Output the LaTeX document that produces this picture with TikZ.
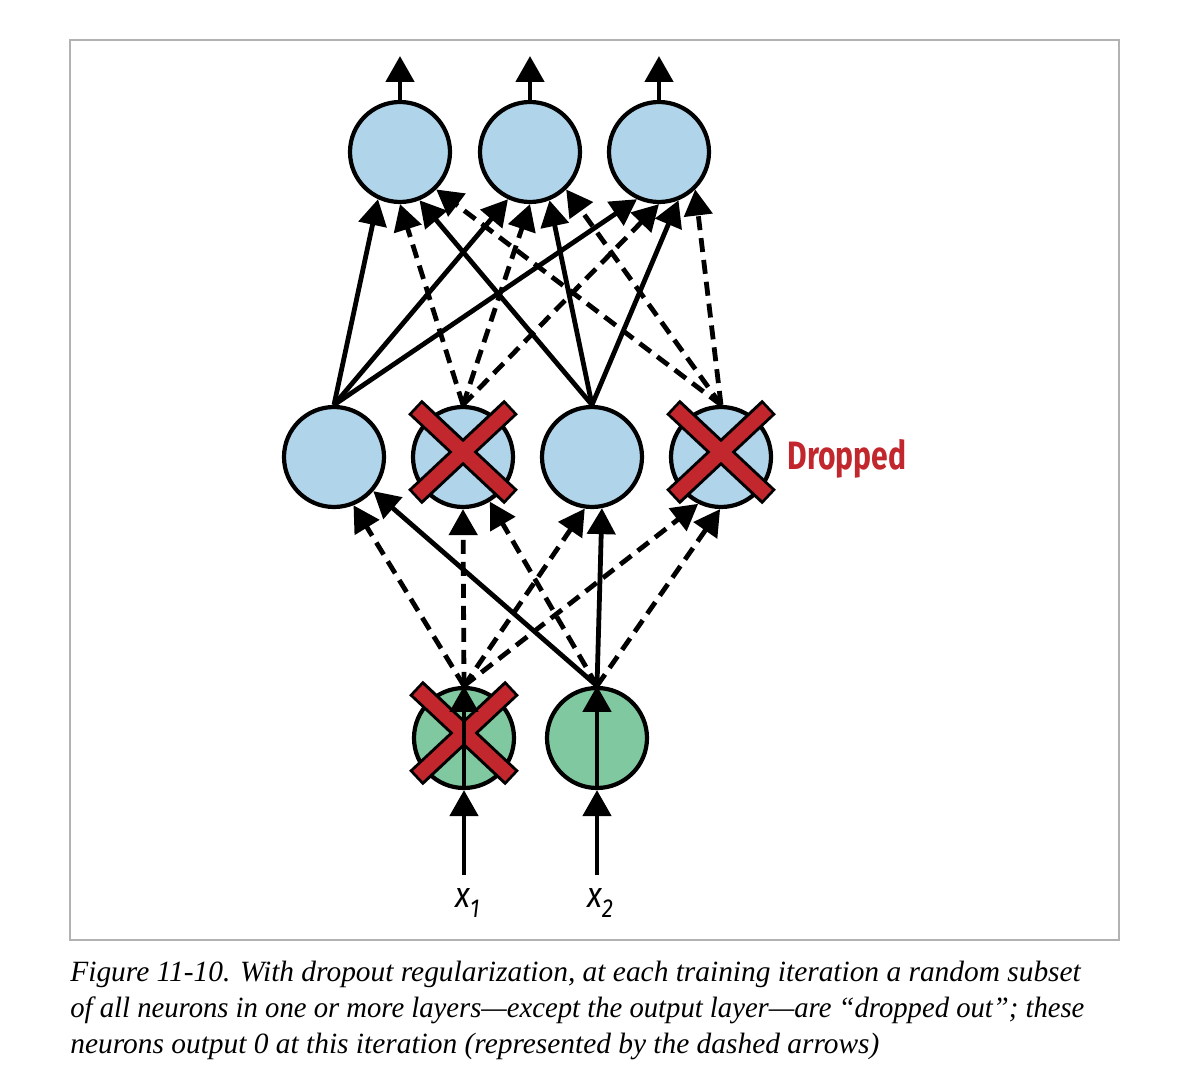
\documentclass[tikz,border=0pt]{standalone}
\usepackage{fontspec}
\setmainfont{Liberation Serif}
\newfontfamily\dropfont[FakeStretch=0.76]{Fira Sans}
\newfontfamily\inputfont[FakeStretch=0.85]{Fira Sans}
\usetikzlibrary{arrows.meta}
\definecolor{neuronblue}{RGB}{176,212,234}
\definecolor{neurongreen}{RGB}{128,200,160}
\definecolor{dropred}{RGB}{193,39,45}
\newcommand{\inlabel}[1]{{\fontsize{18pt}{18pt}\selectfont x}\raisebox{-5pt}{\fontsize{13pt}{13pt}\selectfont #1}}
\begin{document}
\begin{tikzpicture}[
      x=0.5pt, y=-0.5pt,
      neuron/.style={circle, draw, line width=2.1pt, minimum size=50pt,
                     inner sep=0pt, fill=neuronblue},
      conn/.style={line width=2.4pt, -{Triangle[length=13pt,width=14pt]}},
      off/.style={conn, dash pattern=on 7pt off 4pt},
      capline/.style={anchor=base west, inner sep=0pt,
                      font=\fontsize{14.7pt}{18pt}\selectfont\itshape}
    ]
      \useasboundingbox (0,0) rectangle (1188,1090);
      \draw[gray!60, line width=0.6pt] (70,40) rectangle (1119,940);
      \foreach \i/\x in {1/400,2/530,3/659} {
        \node[neuron] (o\i) at (\x,152) {};
        \coordinate (top\i) at (\x,56);
      }
      \foreach \i/\x in {1/334,2/463,3/592,4/721}
        \node[neuron] (h\i) at (\x,457) {};
      \foreach \i/\x in {1/464,2/597} {
        \node[neuron, fill=neurongreen] (i\i) at (\x,738) {};
        \coordinate (src\i) at (\x,875);
      }
      \foreach \n in {h2,h4,i1} {
        \begin{scope}[shift={(\n.center)}]
          \draw[line width=10pt] (-48,-50) -- (48,40) (48,-50) -- (-48,40);
          \draw[line width=7pt, dropred] (-46,-48) -- (46,38) (46,-48) -- (-46,38);
        \end{scope}
      }
      \foreach \i in {1,2,3}
        \draw[conn] (o\i.north) -- (top\i);
      \foreach \j/\a/\st in {1/245/conn,2/270/off,3/292/conn,4/314/off} {
        \foreach \k in {1,2,3} {
          \draw[\st] (h\j.north) -- (o\k.\a);
        }
      }
      \foreach \k/\a in {1/292,2/270,3/262,4/244}
        \draw[off] (i1.north) -- (h\k.\a);
      \foreach \k/\a/\st in {1/319/conn,2/301/off,3/281/conn,4/269/off}
        \draw[\st] (i2.north) -- (h\k.\a);
      \foreach \i in {1,2} {
        \draw[conn] (src\i) -- (i\i.south);
        \draw[conn] (i\i.south) -- (i\i.north);
      }
      \node[anchor=base west, inner sep=0pt, font=\inputfont\itshape] (lbl1) at (455,907) {\inlabel{1}};
      \node[anchor=base west, inner sep=0pt, font=\inputfont\itshape] (lbl2) at (587,907) {\inlabel{2}};
      \node[anchor=west, inner sep=0pt, text=dropred,
            font=\dropfont\bfseries\fontsize{19.8pt}{20pt}\selectfont] (droplbl) at (787,459) {Dropped};
      \node[capline] (cap1) at (70,981) {Figure 11-10. With dropout regularization, at each training iteration a random subset};
      \node[capline] (cap2) at (70,1017) {\scalebox{0.975}[1]{of all neurons in one or more layers---except the output layer---are ``dropped out''; these}};
      \node[capline] (cap3) at (70,1053) {neurons output 0 at this iteration (represented by the dashed arrows)};
    \end{tikzpicture}
\end{document}
